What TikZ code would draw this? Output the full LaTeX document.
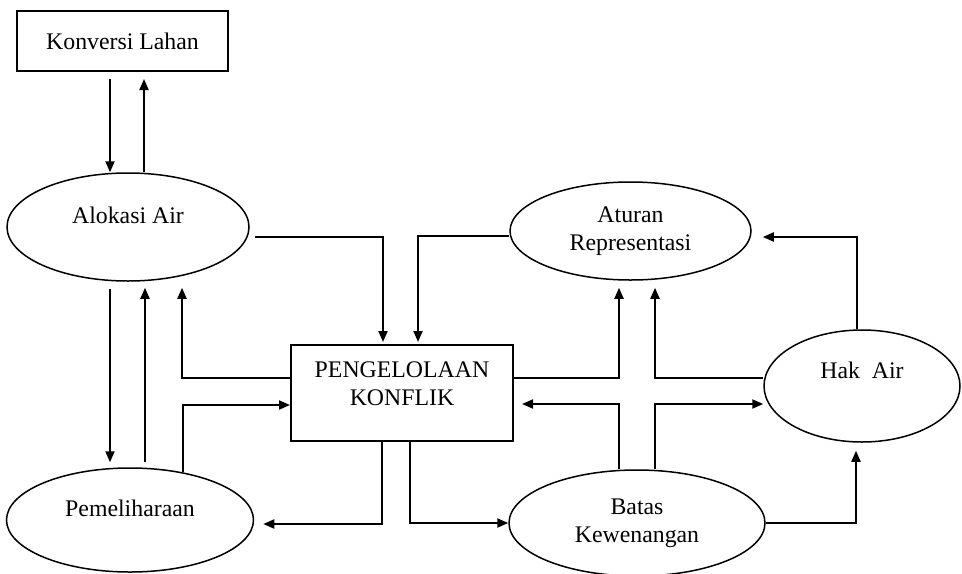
\documentclass[tikz,border=0pt]{standalone}
\usepackage{fontspec}
\setmainfont{Liberation Serif}
\usetikzlibrary{shapes.geometric,arrows.meta}

\tikzset{
  oval/.style={draw,ellipse,line width=0.75pt,inner sep=0pt,align=center},
  kotak/.style={draw,rectangle,line width=1pt,inner sep=0pt},
  panah/.style={line width=1pt,-{Triangle[length=5.5pt,width=4.5pt]}}
}

\begin{document}
\begin{tikzpicture}[x=0.5pt,y=-0.5pt,font=\fontsize{11.9}{13.8}\selectfont]
 \useasboundingbox (0,0) rectangle (962,573);
 \node[kotak,minimum width=105.5pt,minimum height=30pt] (konversi) at (122.5,41) {Konversi Lahan};
 \node[oval,minimum width=121pt,minimum height=54pt,text depth=12pt] (alokasi) at (128,227) {Alokasi Air};
 \node[oval,minimum width=123.5pt,minimum height=52pt,text depth=12pt] (pemeliharaan) at (130,520) {Pemeliharaan};
 \node[kotak,minimum width=111pt,minimum height=48pt] (pk) at (402,393) {};
 \node[align=center] (pkteks) at ([yshift=4.5pt]pk.center) {PENGELOLAAN\\KONFLIK};
 \node[oval,minimum width=120.5pt,minimum height=49pt] (aturan) at (630.5,231) {Aturan\\Representasi};
 \node[oval,minimum width=98pt,minimum height=56pt,text depth=16pt] (hak) at (862,386) {Hak\ \ Air};
 \node[oval,minimum width=128pt,minimum height=53pt] (batas) at (637,523) {Batas\\Kewenangan};

 \draw[panah,shorten <=3.5pt] ([xshift=-6.25pt]konversi.south) -- ([xshift=-6.25pt]konversi.south |- alokasi.north);
 \draw[panah,shorten >=3.5pt] ([xshift=10.75pt]konversi.south |- alokasi.north) -- ([xshift=10.75pt]konversi.south);
 \draw[panah,shorten <=3.5pt,shorten >=2.5pt] ([xshift=-9pt]alokasi.south) -- ([xshift=-9pt]alokasi.south |- pemeliharaan.north);
 \draw[panah,shorten <=2.5pt,shorten >=3pt] ([xshift=8.5pt]alokasi.south |- pemeliharaan.north) -- ([xshift=8.5pt]alokasi.south);
 \draw[panah,shorten <=2.5pt,shorten >=1pt] ([yshift=-5pt]alokasi.east) -| ([xshift=-9.5pt]pk.north);
 \draw[panah,shorten >=1pt] ([yshift=-2.5pt]aturan.west) -| ([xshift=8pt]pk.north);
 \draw[panah,shorten >=3pt] ([yshift=7.5pt]pk.west) -| ([xshift=27pt]alokasi.south);
 \draw[panah] (pemeliharaan.42) |- ([yshift=-6pt]pk.west);
 \draw[panah,shorten >=4.5pt] ([xshift=-10pt]pk.south) |- ([yshift=-2pt]pemeliharaan.east);
 \draw[panah] ([xshift=4pt]pk.south) |- (batas.west);
 \draw[panah,shorten >=3.5pt] ([yshift=7.5pt]pk.east) -| ([xshift=-5.75pt]aturan.south);
 \draw[panah,shorten >=3.5pt] ([yshift=4pt]hak.west) -| ([xshift=12.25pt]aturan.south);
 \draw[panah,shorten >=4pt] ([xshift=-9pt]batas.north) |- ([yshift=-5.5pt]pk.east);
 \draw[panah] ([xshift=9pt]batas.north) |- ([yshift=-9pt]hak.west);
 \draw[panah,shorten >=4pt] (batas.east) -| ([xshift=-3pt]hak.south);
 \draw[panah,shorten >=5.5pt] ([xshift=-2.5pt]hak.north) |- ([yshift=-3pt]aturan.east);
\end{tikzpicture}
\end{document}
